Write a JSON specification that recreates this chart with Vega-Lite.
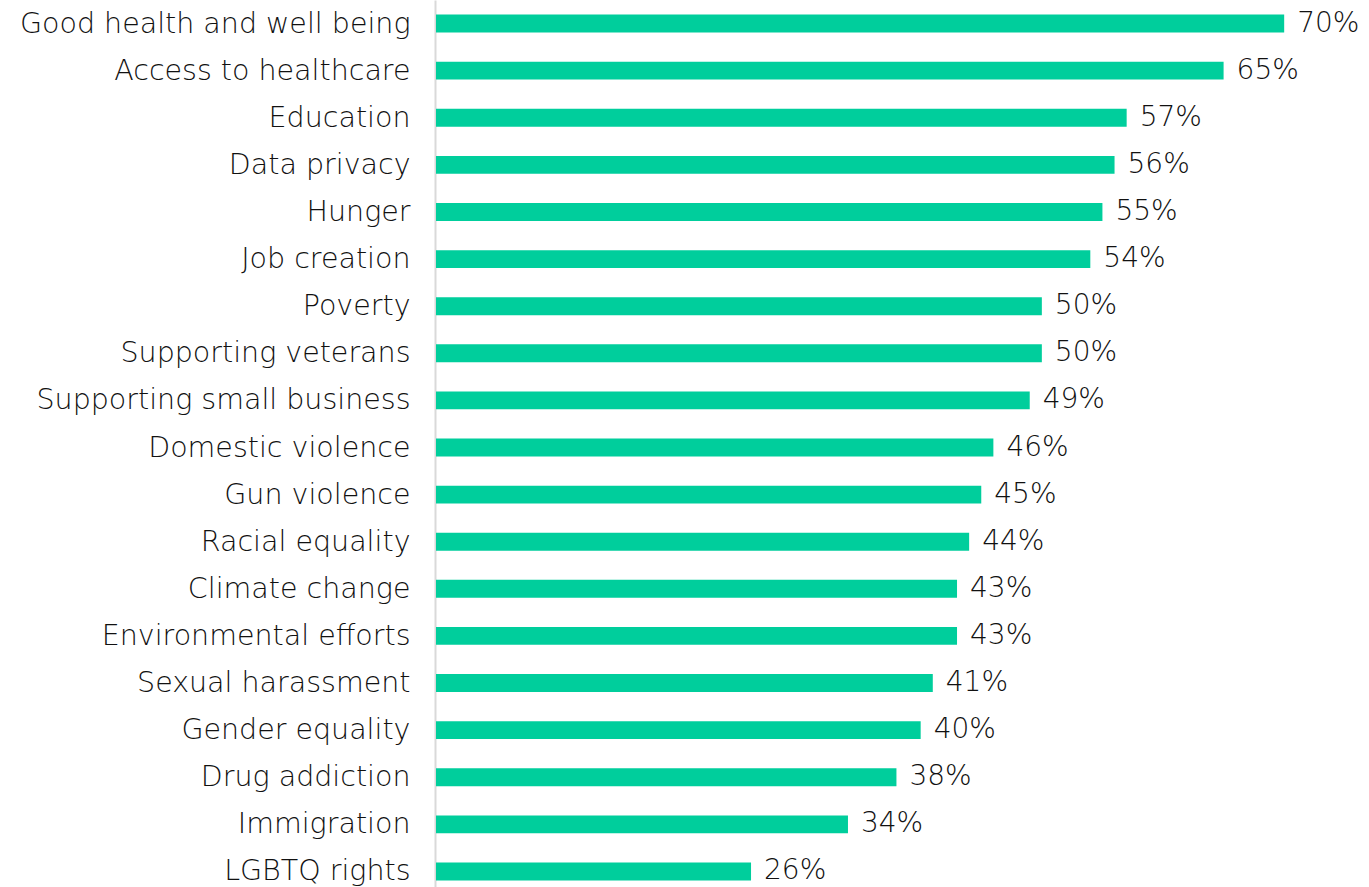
{
  "$schema": "https://vega.github.io/schema/vega-lite/v6.json",
  "autosize": "none",
  "width": 933,
  "height": 895,
  "padding": {"left": 436, "top": 0, "right": 0, "bottom": 0},
  "background": "white",
  "config": {"view": {"stroke": null}, "font": "DejaVu Sans"},
  "data": {"values": [
    {"issue": "Good health and well being", "v": 0.70},
    {"issue": "Access to healthcare", "v": 0.65},
    {"issue": "Education", "v": 0.57},
    {"issue": "Data privacy", "v": 0.56},
    {"issue": "Hunger", "v": 0.55},
    {"issue": "Job creation", "v": 0.54},
    {"issue": "Poverty", "v": 0.50},
    {"issue": "Supporting veterans", "v": 0.50},
    {"issue": "Supporting small business", "v": 0.49},
    {"issue": "Domestic violence", "v": 0.46},
    {"issue": "Gun violence", "v": 0.45},
    {"issue": "Racial equality", "v": 0.44},
    {"issue": "Climate change", "v": 0.43},
    {"issue": "Environmental efforts", "v": 0.43},
    {"issue": "Sexual harassment", "v": 0.41},
    {"issue": "Gender equality", "v": 0.40},
    {"issue": "Drug addiction", "v": 0.38},
    {"issue": "Immigration", "v": 0.34},
    {"issue": "LGBTQ rights", "v": 0.26}
  ]},
  "encoding": {
    "y": {"field": "issue", "type": "nominal", "sort": null,
      "scale": {"paddingInner": 0.62, "paddingOuter": 0.31},
      "axis": {"title": null, "ticks": false, "domainColor": "#d9d9d9", "domainWidth": 2,
        "labelFont": "DejaVu Sans", "labelFontWeight": 200, "labelFontSize": 28.5, "labelColor": "#111111",
        "labelPadding": 25, "labelLimit": 500, "offset": 1}},
    "x": {"field": "v", "type": "quantitative", "scale": {"domain": [0, 0.77]}, "axis": null}
  },
  "layer": [
    {"mark": {"type": "bar", "color": "#00CE9C"}},
    {"mark": {"type": "text", "align": "left", "baseline": "middle", "dx": 13, "fontSize": 28, "fontWeight": 200, "color": "#111111", "font": "DejaVu Sans"},
     "encoding": {"text": {"field": "v", "type": "quantitative", "format": ".0%"}}}
  ]
}
